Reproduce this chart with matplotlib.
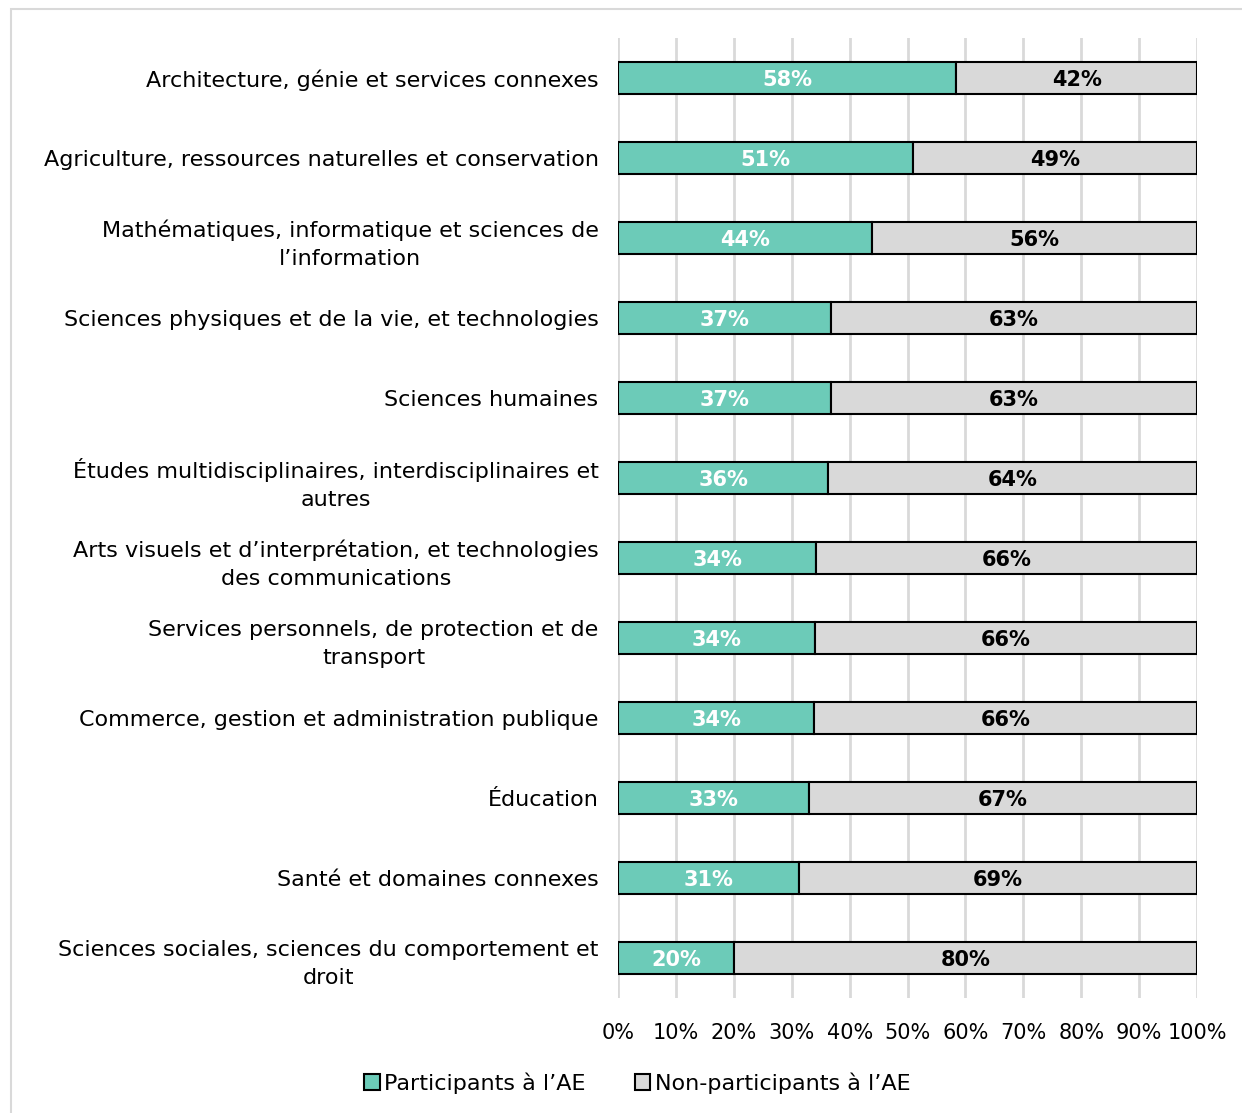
import matplotlib.pyplot as plt
from matplotlib.patches import Rectangle

plt.rcParams['font.family'] = ['DejaVu Sans']

categories = [
    "Architecture, génie et services connexes",
    "Agriculture, ressources naturelles et conservation",
    "Mathématiques, informatique et sciences de\nl’information",
    "Sciences physiques et de la vie, et technologies",
    "Sciences humaines",
    "Études multidisciplinaires, interdisciplinaires et\nautres",
    "Arts visuels et d’interprétation, et technologies\ndes communications",
    "Services personnels, de protection et de\ntransport",
    "Commerce, gestion et administration publique",
    "Éducation",
    "Santé et domaines connexes",
    "Sciences sociales, sciences du comportement et\ndroit",
]
participants = [58.4, 50.9, 43.9, 36.8, 36.8, 36.3, 34.2, 34.0, 33.9, 33.0, 31.3, 20.0]
non_participants = [100 - p for p in participants]
ticks = list(range(0, 101, 10))
tick_labels = [f"{t}%" for t in ticks]

teal = "#6CCBB8"
grey = "#D9D9D9"

fig = plt.figure(figsize=(12.42, 11.13), dpi=100)
ax = fig.add_axes([0.4976, 0.1033, 0.4662, 0.8626])

# light frame around the chart area
fig.patches.append(Rectangle((0.0089, -0.01), 1.1, 1.0019, transform=fig.transFigure,
                             fill=False, edgecolor="#D9D9D9", lw=1.5))

y = list(range(len(categories)))
ax.barh(y, participants, height=0.4, color=teal, edgecolor="black", lw=1.5,
        label="Participants à l’AE", zorder=3)
ax.barh(y, non_participants, left=participants, height=0.4, color=grey,
        edgecolor="black", lw=1.5, label="Non-participants à l’AE", zorder=3)

for yi, p, n in zip(y, participants, non_participants):
    ax.text(p / 2, yi + 0.02, f"{p:.0f}%", ha="center", va="center", color="white",
            fontsize=15, fontweight="bold", zorder=4)
    ax.text(p + n / 2, yi + 0.02, f"{n:.0f}%", ha="center", va="center", color="black",
            fontsize=15, fontweight="bold", zorder=4)

ax.set_ylim(len(categories) - 0.5, -0.5)
ax.set_xlim(0, 100)
ax.set_yticks(y)
ax.set_yticklabels(categories, fontsize=16, linespacing=1.5)
for lbl in ax.get_yticklabels():
    lbl.set_multialignment("center")
ax.tick_params(axis="y", length=0, pad=14)
ax.set_xticks(ticks)
ax.set_xticklabels(tick_labels, fontsize=15)
ax.tick_params(axis="x", length=0, pad=18)
ax.grid(axis="x", color="#D9D9D9", lw=2, zorder=0)
for s in ax.spines.values():
    s.set_visible(False)

fig.legend(loc="center", bbox_to_anchor=(0.513, 0.027), ncol=2, frameon=False,
           fontsize=16, handlelength=0.7, handleheight=0.7, handletextpad=0.2,
           columnspacing=2.2)

fig.savefig("out.png", dpi=100)
